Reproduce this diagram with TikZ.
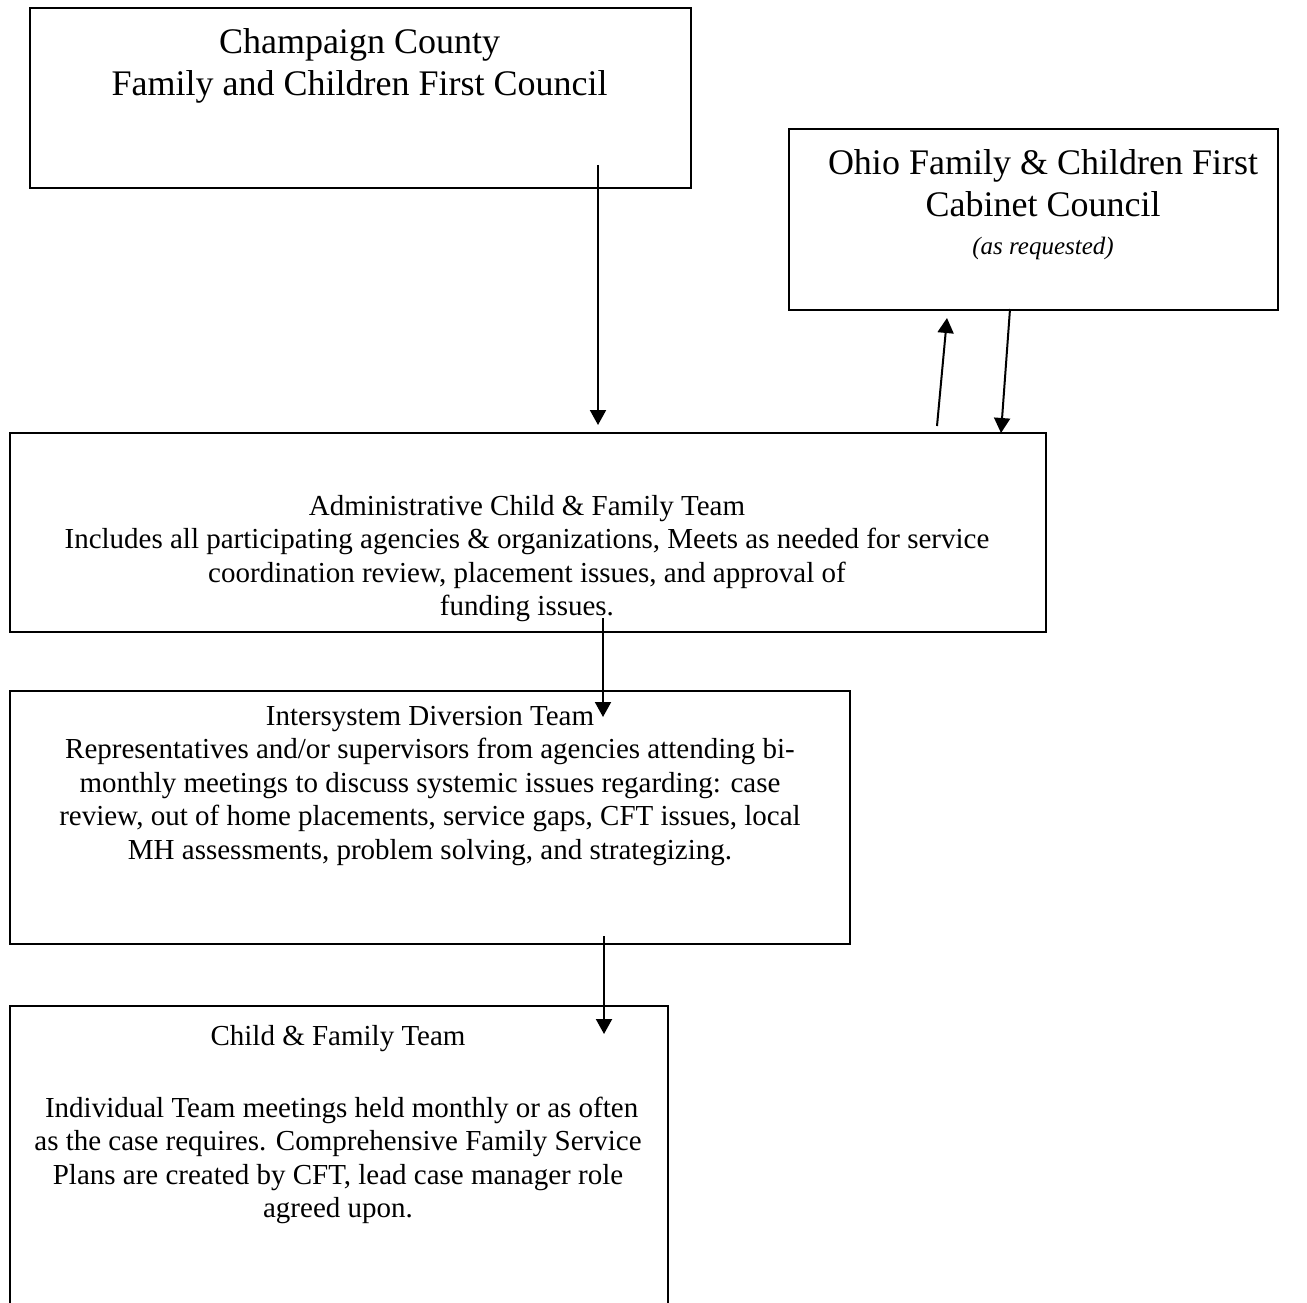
\documentclass[tikz,border=0pt]{standalone}
\usepackage{fontspec}
\setmainfont{Liberation Serif}
\usetikzlibrary{arrows.meta}
\newcommand\ttlfont{\fontsize{36}{42}\selectfont}
\newcommand\bodyfont{\fontsize{29}{33.35}\selectfont}
\newcommand\notefont{\fontsize{25}{29}\selectfont\itshape}
\tikzset{
  box/.style={draw, line width=2pt, rectangle, inner sep=0pt, anchor=north west},
  ttl/.style={align=center, inner sep=0pt, anchor=north, font=\ttlfont},
  bdy/.style={align=center, inner sep=0pt, anchor=north, font=\bodyfont},
  arr/.style={line width=2pt, -{Triangle[length=15pt,width=16pt]}},
}
\begin{document}
\begin{tikzpicture}[x=1pt,y=-1pt]
\useasboundingbox (0,0) rectangle (1307,1303);
\clip (0,0) rectangle (1307,1303);
\fill[white] (0,0) rectangle (1307,1303);

% boxes
\node[box, minimum width=661pt, minimum height=180pt] (ccfc) at (29,7) {};
\node[box, minimum width=489pt, minimum height=181pt] (ohio) at (788,128) {};
\node[box, minimum width=1036pt, minimum height=199pt] (admin) at (9,432) {};
\node[box, minimum width=840pt, minimum height=253pt] (idt) at (9,690) {};
\node[box, minimum width=658pt, minimum height=320pt] (cft) at (9,1005) {};

% texts
\node[ttl] (ccfctext) at (359.5,28.4) {Champaign County\\Family and Children First Council};
\node[ttl] (ohiotext) at (1043,149.4) {Ohio Family \& Children First\\Cabinet Council};
\node[font=\notefont, inner sep=0pt, anchor=base] (ohionote) at (1043,254) {(as requested)};
\node[bdy] (admintext) at (527,495) {Administrative Child \& Family Team\\Includes all participating agencies \& organizations, Meets as needed for service\\coordination review, placement issues, and approval of\\funding issues.};
\node[bdy] (idttext) at (430,706.2) {Intersystem Diversion Team\\Representatives and/or supervisors from agencies attending bi-\\monthly meetings to discuss systemic issues regarding: case\\review, out of home placements, service gaps, CFT issues, local\\MH assessments, problem solving, and strategizing.};
\node[bdy] (cfttitle) at (338,1025.5) {Child \& Family Team};
\node[bdy] (cfttext) at (338,1097) {\ Individual Team meetings held monthly or as often\\as the case requires. Comprehensive Family Service\\Plans are created by CFT, lead case manager role\\agreed upon.};

% connector end points
\coordinate (a1s) at (598,165);
\coordinate (a1e) at (598,425);
\coordinate (a2s) at (937,426);
\coordinate (a2e) at (947,318);
\coordinate (a3s) at (1010,309);
\coordinate (a3e) at (1001,433);
\coordinate (a4s) at (603,618);
\coordinate (a4e) at (603,717);
\coordinate (a5s) at (604,936);
\coordinate (a5e) at (604,1034);

\draw[arr] (a1s) -- (a1e);
\draw[arr] (a2s) -- (a2e);
\draw[arr] (a3s) -- (a3e);
\draw[arr] (a4s) -- (a4e);
\draw[arr] (a5s) -- (a5e);
\end{tikzpicture}
\end{document}
